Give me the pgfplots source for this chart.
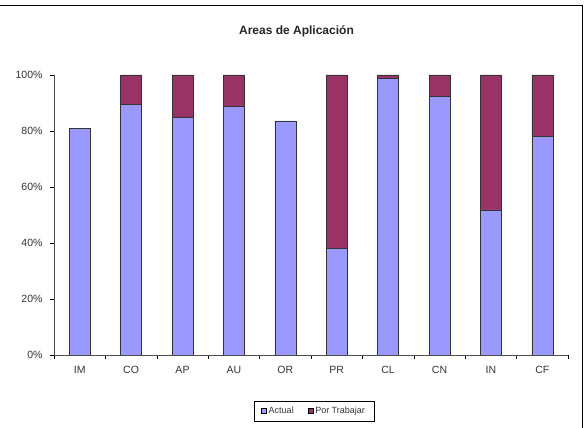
\documentclass[border=0pt]{standalone}
\usepackage{pgfplots}
\pgfplotsset{compat=1.18}
\usepackage{fontspec}
\setmainfont{Liberation Sans}
\definecolor{actual}{HTML}{9999FF}
\definecolor{portrab}{HTML}{993366}
\definecolor{lbl}{HTML}{333333}
\begin{document}
\begin{tikzpicture}
\path[use as bounding box] (0,0) rectangle (587pt,428pt);
\draw[black, line width=1pt] (0,422pt) -- (582pt,422pt) -- (582pt,0);
\node[font=\bfseries\fontsize{12}{14}\selectfont, text=black!85] at (296.5pt,397pt) {Areas de Aplicación};
\begin{axis}[
  at={(54pt,73pt)}, anchor=south west,
  scale only axis, width=514pt, height=280pt,
  ybar stacked, bar width=21pt,
  xmin=-0.5, xmax=9.5, ymin=0, ymax=100,
  axis x line*=bottom, axis y line*=left,
  axis line style={-, black!70, line width=0.8pt},
  xtick={0,...,9},
  xticklabels={IM,CO,AP,AU,OR,PR,CL,CN,IN,CF},
  minor xtick={-0.5,0.5,...,9.5},
  major x tick style={draw=none},
  minor tick length=4pt,
  ytick={0,20,...,100},
  major tick length=4pt,
  tick align=outside,
  tick style={black, line width=0.6pt},
  yticklabel={\pgfmathprintnumber{\tick}\%},
  /pgf/number format/assume math mode=true,
  ticklabel style={font=\fontsize{10.5}{12}\selectfont, text=lbl},
  xticklabel style={yshift=-4pt},
  yticklabel style={xshift=-4pt},
  legend columns=2,
  legend style={at={(0.506,-0.2)}, anchor=center, draw=black, line width=0.7pt,
    font=\fontsize{9}{10}\selectfont, text=lbl,
    /tikz/every even column/.append style={column sep=12pt},
    inner xsep=7pt, inner ysep=4pt},
  legend image code/.code={\draw[#1, draw=black, line width=0.5pt] (0pt,-2.5pt) rectangle (5pt,2.5pt);},
]
\addplot[fill=actual, draw=black!80, line width=0.5pt] coordinates {
 (0,81) (1,89.6) (2,84.8) (3,88.8) (4,83.6) (5,38.1) (6,98.7) (7,92.3) (8,51.8) (9,78.2)};
\addplot[fill=portrab, draw=black!80, line width=0.5pt] coordinates {
 (0,0) (1,10.4) (2,15.2) (3,11.2) (4,0) (5,61.9) (6,1.3) (7,7.7) (8,48.2) (9,21.8)};
\legend{Actual, Por Trabajar}
\end{axis}
\end{tikzpicture}
\end{document}
